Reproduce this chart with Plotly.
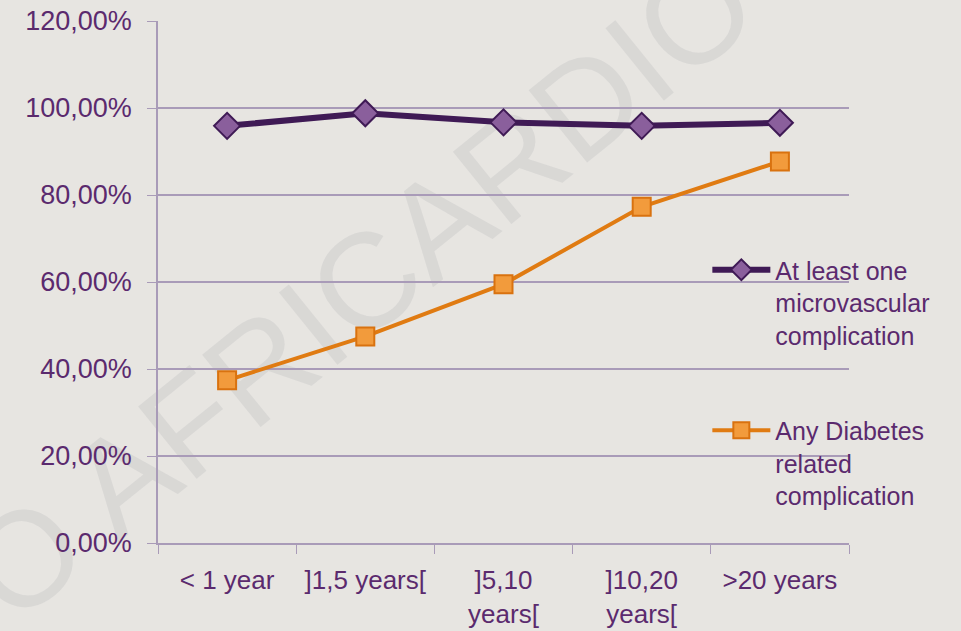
import plotly.graph_objects as go

# data
categories = ["< 1 year", "]1,5 years[", "]5,10<br>years[", "]10,20<br>years[", ">20 years"]
microvascular = [0.959, 0.988, 0.967, 0.959, 0.966]
any_diabetes = [0.374, 0.475, 0.595, 0.773, 0.877]

TEXT = "#5b2a6e"
GRID = "#a99bb8"
BG = "#e7e5e1"
FONT = "Liberation Sans, Arial, sans-serif"

fig = go.Figure()
fig.add_trace(go.Scatter(
    x=categories, y=microvascular, mode="lines+markers",
    name="At least one<br>microvascular<br>complication",
    legendgroup="a",
    line=dict(color="#3f1a55", width=6),
    marker=dict(symbol="diamond", size=20, color="#8a5f9c",
                line=dict(color="#3f1a55", width=2)),
))
fig.add_trace(go.Scatter(
    x=categories, y=any_diabetes, mode="lines+markers",
    name="Any Diabetes<br>related<br>complication",
    legendgroup="b",
    line=dict(color="#e07b12", width=4),
    marker=dict(symbol="square", size=18, color="#f29b3c",
                line=dict(color="#d9720f", width=2)),
))

# faint watermark, kept under the data via a shape label
fig.add_shape(
    type="rect", xref="paper", yref="paper",
    x0=0.27, x1=0.29, y0=0.5, y1=0.52, layer="below",
    line=dict(width=0), fillcolor="rgba(0,0,0,0)",
    label=dict(text="O AFRICARDIO", textangle=-39, textposition="middle center",
               font=dict(family=FONT, size=135, color="rgba(200,200,200,0.45)")),
)

fig.update_layout(
    width=961, height=631,
    paper_bgcolor=BG, plot_bgcolor="rgba(0,0,0,0)",
    margin=dict(l=158, r=112, t=21, b=88),
    font=dict(family=FONT, size=27, color=TEXT),
    separators=",.",
    showlegend=True,
    legend=dict(x=0.795, y=0.567, xanchor="left", yanchor="top", valign="top",
                bgcolor="rgba(0,0,0,0)", tracegroupgap=60,
                font=dict(size=25, color=TEXT), itemwidth=58),
)
fig.update_xaxes(
    type="category", showgrid=False, showline=True, linecolor=GRID, linewidth=1.5,
    ticks="outside", tickson="boundaries", ticklen=9, tickcolor=GRID,
    ticklabelstandoff=13, automargin=False,
    range=[-0.5, 4.5], tickfont=dict(size=26, color=TEXT),
)
fig.update_yaxes(
    range=[0, 1.2], dtick=0.2, tickformat=".2%",
    showgrid=True, gridcolor=GRID, gridwidth=1.5,
    showline=True, linecolor=GRID, linewidth=1.5,
    ticks="outside", ticklen=9, tickcolor=GRID, zeroline=False,
    ticklabelstandoff=10, automargin=False,
    tickfont=dict(size=27, color=TEXT),
)

# drop the page margin so the figure sits at the window's corner
fig.write_html("out.html", config={"displayModeBar": False},
               post_script="document.body.style.margin='0';")
